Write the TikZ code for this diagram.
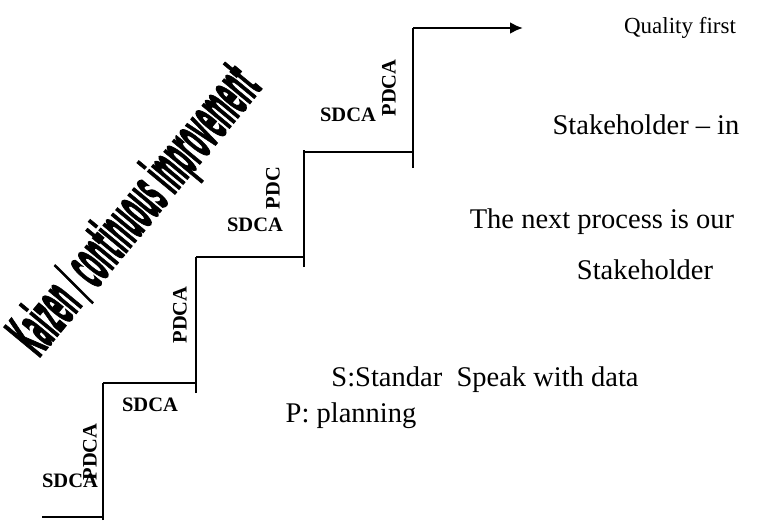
\documentclass[tikz,border=0pt]{standalone}
\usepackage{fontspec}
\setmainfont{Liberation Serif}
\newfontfamily\kaizenfont[FakeBold=2.5]{DejaVu Sans Bold}
\usetikzlibrary{arrows.meta}

\begin{document}
\begin{tikzpicture}[x=1pt, y=-1pt,
  tread/.style={line width=2.6pt},
  thin_tread/.style={line width=1.3pt},
  riser/.style={line width=2.6pt},
  tag_/.style={font=\fontsize{20.5}{20.5}\selectfont\bfseries, inner sep=0pt},
  vtag/.style={tag_, rotate=90},
  note/.style={font=\fontsize{28.5}{32}\selectfont, inner sep=0pt}
]
\useasboundingbox (0,0) rectangle (764,527);

% stair corners
\coordinate (s0) at (42,517);
\coordinate (r1b) at (103,520);
\coordinate (r1t) at (103,383);
\coordinate (r2b) at (196,393);
\coordinate (r2t) at (196,257);
\coordinate (r3b) at (304,267);
\coordinate (r3t) at (304,150);
\coordinate (r4b) at (413,168);
\coordinate (r4t) at (413,28);
\coordinate (goal) at (523,28);

% treads
\draw[tread] (s0) -- (s0 -| r1b);
\draw[tread] (r1t) -- (r1t -| r2b);
\draw[tread] (r2t) -- (r2t -| r3b);
\draw[thin_tread] (304,152) -- (413,152);
\draw[tread, -{Latex[length=13pt,width=12pt]}] (r4t) -- (goal);

% risers
\draw[riser] (r1b) -- (r1t);
\draw[riser] (r2b) -- (r2t);
\draw[riser] (r3b) -- (r3t);
\draw[riser] (r4b) -- (r4t);

% step labels
\node[tag_] (sdca1) at (70,481) {SDCA};
\node[vtag] (pdca1) at (90,452) {PDCA};
\node[tag_] (sdca2) at (150,405) {SDCA};
\node[vtag] (pdca2) at (180,315) {PDCA};
\node[tag_] (sdca3) at (255,225) {SDCA};
\node[vtag] (pdc3) at (273,188) {PDC};
\node[tag_] (sdca4) at (348,115) {SDCA};
\node[vtag] (pdca4) at (389,88) {PDCA};

% slogan
\node[inner sep=0pt, rotate=50.4] (kaizen) at (137,212)
  {\scalebox{0.29}[1.0]{\kaizenfont\fontsize{64}{64}\selectfont Kaizen / continuous improvement}};

% notes
\node[note, font=\fontsize{23}{28}\selectfont] (quality) at (680,28) {Quality first};
\node[note] (stake_in) at (646,125) {Stakeholder -- in};
\node[note] (next) at (602,222) {The next process is our};
\node[note] (stake) at (645,270) {Stakeholder};
\node[note] (standar) at (485,380) {S:Standar\ \ Speak with data};
\node[note] (plan) at (351,416) {P: planning};
\end{tikzpicture}
\end{document}
